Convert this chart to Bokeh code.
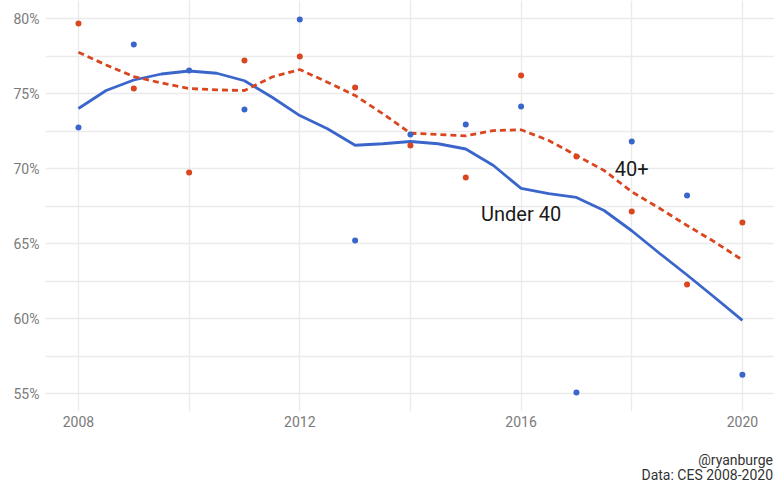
from bokeh.plotting import figure
from bokeh.models import FixedTicker, PrintfTickFormatter, Label, Range1d, Div
from bokeh.layouts import column
from bokeh.embed import file_html
from bokeh.resources import INLINE

# ---- data ----
years = [2008, 2009, 2010, 2011, 2012, 2013, 2014, 2015, 2016, 2017, 2018, 2019, 2020]
under40 = [72.73, 78.27, 76.53, 73.93, 79.93, 65.2, 72.27, 72.93, 74.13, 55.07, 71.8, 68.2, 56.25]
over40 = [79.67, 75.33, 69.73, 77.2, 77.47, 75.4, 71.53, 69.4, 76.2, 70.8, 67.13, 62.27, 66.4]

smooth_years = [2008, 2008.5, 2009, 2009.5, 2010, 2010.5, 2011, 2011.5, 2012, 2012.5, 2013,
                2013.5, 2014, 2014.5, 2015, 2015.5, 2016, 2016.5, 2017, 2017.5, 2018,
                2018.5, 2019, 2019.5, 2020]
under40_smooth = [74.0, 75.2, 75.9, 76.3, 76.5, 76.35, 75.85, 74.75, 73.53, 72.65, 71.55,
                  71.65, 71.8, 71.65, 71.3, 70.2, 68.67, 68.33, 68.07, 67.2, 65.85,
                  64.35, 62.9, 61.4, 59.87]
over40_smooth = [77.75, 76.9, 76.13, 75.7, 75.33, 75.24, 75.2, 76.1, 76.6, 75.75, 74.87,
                 73.65, 72.35, 72.27, 72.18, 72.53, 72.58, 71.87, 70.87, 69.87, 68.45,
                 67.35, 66.2, 65.1, 63.9]

x_ticks = [2008, 2012, 2016, 2020]
x_minor = [2010, 2014, 2018]
y_ticks = [55, 60, 65, 70, 75, 80]
y_minor = [57.5, 62.5, 67.5, 72.5, 77.5]

label_text = ["Under 40", "40+"]
label_x = [2016, 2018]
label_y = [67.0, 70.0]
caption = ["@ryanburge", "Data: CES 2008-2020"]

BLUE = "#3a66cc"
RED = "#d9461f"
FONT = "Roboto"

p = figure(width=774, height=443, output_backend="svg", toolbar_location=None,
           x_range=Range1d(2007.404, 2020.58), y_range=Range1d(53.8, 81.2),
           min_border_left=45, min_border_right=0, min_border_top=0, min_border_bottom=32)
p.outline_line_color = None
p.background_fill_color = "white"
p.border_fill_color = "white"

# axes
for ax in (p.xaxis[0], p.yaxis[0]):
    ax.axis_line_color = None
    ax.major_tick_line_color = None
    ax.minor_tick_line_color = None
    ax.major_tick_out = 0
    ax.major_tick_in = 0
    ax.minor_tick_out = 0
    ax.minor_tick_in = 0
    ax.major_label_text_color = "#7a7a7a"
    ax.major_label_text_font = FONT
    ax.major_label_text_font_size = "14px"
p.xaxis[0].ticker = FixedTicker(ticks=x_ticks, minor_ticks=x_minor)
p.yaxis[0].ticker = FixedTicker(ticks=y_ticks, minor_ticks=y_minor)
p.yaxis[0].formatter = PrintfTickFormatter(format="%d%%")
p.xaxis[0].major_label_standoff = 4
p.yaxis[0].major_label_standoff = 6

# grid
for g in (p.xgrid[0], p.ygrid[0]):
    g.grid_line_color = "#ebebeb"
    g.grid_line_width = 1.4
    g.minor_grid_line_color = "#ebebeb"
    g.minor_grid_line_width = 1.4

# smooth lines
p.line(smooth_years, under40_smooth, line_color=BLUE, line_width=2.8)
p.line(smooth_years, over40_smooth, line_color=RED, line_width=2.8, line_dash="6 4")

# points
p.scatter(years, under40, size=6, fill_color=BLUE, line_color=None)
p.scatter(years, over40, size=6, fill_color=RED, line_color=None)

# direct labels
for t, lx, ly in zip(label_text, label_x, label_y):
    p.add_layout(Label(x=lx, y=ly, text=t, text_align="center", text_baseline="middle",
                       text_font=FONT, text_font_size="20px", text_color="#1a1a1a"))

# caption below the chart, right aligned
cap_html = ('<div style="width:773px; text-align:right; font-family:Roboto; font-size:14px; '
            'line-height:15px; color:#333333; padding-top:10px; white-space:nowrap;">'
            + "<br>".join(caption) + '</div>')
cap = Div(text=cap_html, width=774, height=42, margin=0)

layout = column(p, cap, spacing=0)
open("out.html", "w").write(file_html(layout, INLINE))
